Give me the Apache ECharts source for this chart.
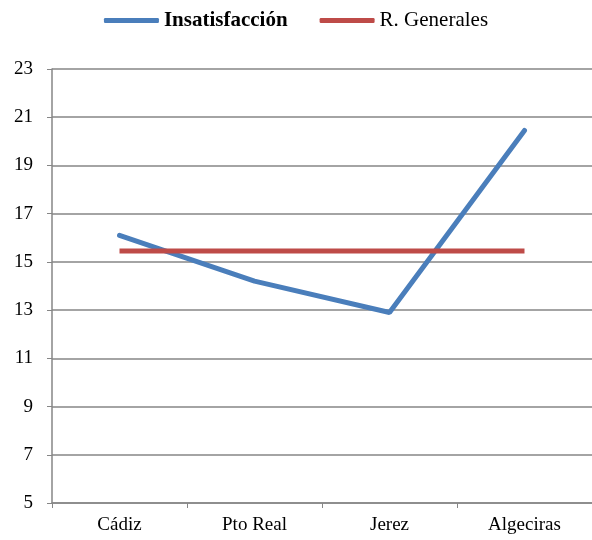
<!DOCTYPE html>
<html><head><meta charset="utf-8">
<script src="https://cdn.jsdelivr.net/npm/echarts@6/dist/echarts.min.js"></script>
<style>html,body{margin:0;padding:0;background:#fff}#c{width:592px;height:540px}</style>
</head><body><div id="c"></div>
<script>
const categories = ['Cádiz', 'Pto Real', 'Jerez', 'Algeciras'];
const insatisfaccion = [16.1, 14.2, 12.9, 20.45];
const generales = [15.45, 15.45, 15.45, 15.45];
const yTicks = [5, 7, 9, 11, 13, 15, 17, 19, 21, 23];

const font = '"Liberation Serif", "DejaVu Serif", serif';
const chart = echarts.init(document.getElementById('c'));
chart.setOption({
  animation: false,
  textStyle: { fontFamily: font },
  legend: {
    top: 5, left: 'center', itemGap: 32,
    icon: 'roundRect', itemWidth: 55, itemHeight: 5,
    textStyle: { fontFamily: font, fontSize: 21, color: '#000', padding: [0, 0, 0, 0] },
    data: [
      { name: 'Insatisfacción', textStyle: { fontWeight: 'bold' } },
      { name: 'R. Generales' }
    ]
  },
  grid: { left: 52, right: 0, top: 69, bottom: 37 },
  xAxis: {
    type: 'category', data: categories, boundaryGap: true,
    axisLine: { lineStyle: { color: '#868686', width: 1.5 } },
    axisTick: { show: true, length: 5, lineStyle: { color: '#868686' } },
    axisLabel: { color: '#000', fontSize: 19, margin: 13, fontFamily: font }
  },
  yAxis: {
    type: 'value', min: yTicks[0], max: yTicks[yTicks.length - 1], interval: 2,
    axisLine: { show: true, lineStyle: { color: '#868686', width: 1.5 } },
    axisTick: { show: true, length: 5, lineStyle: { color: '#868686' } },
    splitLine: { lineStyle: { color: '#868686', width: 1.5 } },
    axisLabel: { color: '#000', fontSize: 19, margin: 19, fontFamily: font }
  },
  series: [
    { name: 'Insatisfacción', type: 'line', data: insatisfaccion, symbol: 'none',
      lineStyle: { color: '#4a7ebb', width: 5, cap: 'round' }, itemStyle: { color: '#4a7ebb' } },
    { name: 'R. Generales', type: 'line', data: generales, symbol: 'none',
      lineStyle: { color: '#be4b48', width: 5 }, itemStyle: { color: '#be4b48' } }
  ]
});
</script></body></html>
